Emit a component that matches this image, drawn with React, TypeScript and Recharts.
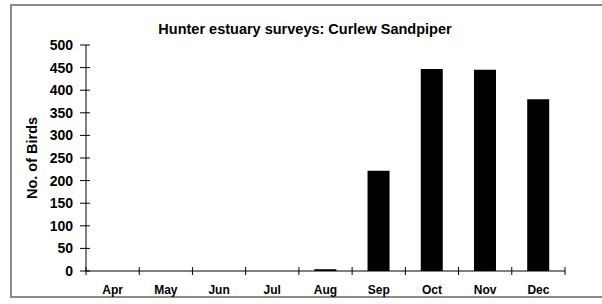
import React from 'react';
import { BarChart, Bar, XAxis, YAxis, Label } from 'recharts';

const months = ['Apr', 'May', 'Jun', 'Jul', 'Aug', 'Sep', 'Oct', 'Nov', 'Dec'];
const birds = [0, 0, 0, 0, 4, 222, 447, 445, 380];
const yTicks = [0, 50, 100, 150, 200, 250, 300, 350, 400, 450, 500];

const data = months.map((m, i) => ({ month: m, birds: birds[i] }));

const W = 602;
const H = 304;
const M = { top: 45, right: 37, bottom: 3, left: 0 };
const YW = 86;
const BAND = (W - M.left - M.right - YW) / months.length;
const FONT = '"Liberation Sans", Arial, sans-serif';

const XTick = (props: any) => {
  const { x, y, payload, index } = props;
  const half = BAND / 2;
  return (
    <g>
      <line x1={x - half} x2={x - half} y1={y - 4} y2={y + 4} stroke="#000" strokeWidth={1} />
      {index === months.length - 1 && (
        <line x1={x + half} x2={x + half} y1={y - 4} y2={y + 4} stroke="#000" strokeWidth={1} />
      )}
      <text x={x} y={y + 22.5} textAnchor="middle" fontFamily={FONT} fontWeight="bold" fontSize={12} fill="#000">
        {payload.value}
      </text>
    </g>
  );
};

const YTick = (props: any) => {
  const { x, y, payload } = props;
  return (
    <g>
      <line x1={x - 6} x2={x + 4} y1={y} y2={y} stroke="#000" strokeWidth={1} />
      <text x={x - 13} y={y + 5} textAnchor="end" fontFamily={FONT} fontWeight="bold" fontSize={14} fill="#000">
        {payload.value}
      </text>
    </g>
  );
};

export default function App() {
  return (
    <div style={{ position: 'absolute', left: 0, top: 0, width: W, height: H, background: '#fff' }}>
      <div
        style={{
          position: 'absolute',
          left: 10,
          top: 4,
          width: W,
          height: 294,
          border: '2px solid #8a8a8a',
          boxSizing: 'border-box',
        }}
      />
      <div
        style={{
          position: 'absolute',
          left: 0,
          top: 21,
          width: W,
          textAlign: 'center',
          fontFamily: FONT,
          fontWeight: 'bold',
          fontSize: 14.5,
          color: '#000',
          paddingLeft: 8,
          boxSizing: 'border-box',
        }}
      >
        Hunter estuary surveys: Curlew Sandpiper
      </div>
      <div style={{ position: 'absolute', left: 0, top: 0 }}>
        <BarChart width={W} height={H} data={data} margin={M} barCategoryGap="29%">
          <XAxis
            dataKey="month"
            height={30}
            axisLine={{ stroke: '#000', strokeWidth: 1 }}
            tickLine={false}
            tickSize={0}
            tickMargin={0}
            tick={<XTick />}
            interval={0}
          />
          <YAxis
            width={YW}
            domain={[0, 500]}
            ticks={yTicks}
            interval={0}
            axisLine={{ stroke: '#000', strokeWidth: 1 }}
            tickLine={false}
            tickSize={0}
            tickMargin={0}
            tick={<YTick />}
          >
            <Label
              content={(p: any) => {
                const vb = p.viewBox || {};
                const cy = (vb.y || 0) + (vb.height || 0) / 2;
                return (
                  <text
                    x={37}
                    y={cy}
                    transform={`rotate(-90 37 ${cy})`}
                    textAnchor="middle"
                    fontFamily={FONT}
                    fontWeight="bold"
                    fontSize={14.5}
                    fill="#000"
                  >
                    No. of Birds
                  </text>
                );
              }}
            />
          </YAxis>
          <Bar dataKey="birds" fill="#000" isAnimationActive={false} />
        </BarChart>
      </div>
    </div>
  );
}
